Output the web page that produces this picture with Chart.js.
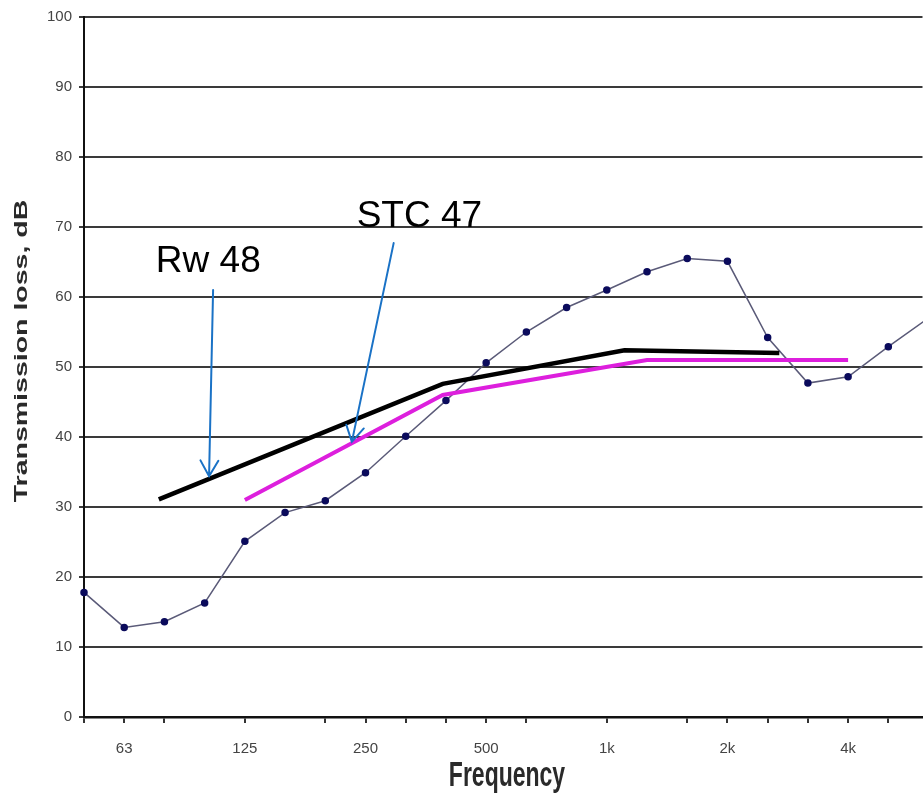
<!DOCTYPE html>
<html>
<head>
<meta charset="utf-8">
<script src="https://cdn.jsdelivr.net/npm/chart.js@4"></script>
<style>
  html, body { margin: 0; padding: 0; background: #fff; overflow: hidden; }
</style>
</head>
<body>
<canvas id="myChart" width="928" height="799"></canvas>
<script>
/* third octave bands + measured transmission loss */
var freqs = ['50', '63', '80', '100', '125', '160', '200', '250', '315', '400', '500',
             '630', '800', '1k', '1.25k', '1.6k', '2k', '2.5k', '3.15k', '4k', '5k', '6.3k'];
var measured = [17.8, 12.8, 13.6, 16.3, 25.1, 29.2, 30.9, 34.9, 40.1, 45.2, 50.6,
                55.0, 58.5, 61.0, 63.6, 65.5, 65.1, 54.2, 47.7, 48.6, 52.9, 57.0];
var shownLabels = ['63', '125', '250', '500', '1k', '2k', '4k'];
var tickMarks = [0, 1, 2, 4, 6, 7, 8, 9, 10, 11, 13, 15, 16, 17, 18, 19, 20];

/* reference curves (band index, dB) */
var rwX = [1.86, 8.92, 13.44, 17.29];
var rwY = [31.1, 47.6, 52.4, 52.0];
var stcX = [4.0, 8.92, 14.0, 19.0];
var stcY = [31.0, 46.0, 51.0, 51.0];

/* annotations */
var noteText = ['Rw 48', 'STC 47'];
var noteX = [3.09, 8.34];
var noteY = [63.6, 70.0];
var arrowFromX = [3.21, 7.70];
var arrowFromY = [61.0, 67.7];
var arrowToX = [3.11, 6.66];
var arrowToY = [34.4, 39.3];

var font = "'Liberation Sans', Arial, sans-serif";

function pts(xs, ys) {
    return xs.map(function (v, i) { return { x: v, y: ys[i] }; });
}

var notes = {
    id: 'notes',
    afterDatasetsDraw: function (chart) {
        var ctx = chart.ctx;
        var x = chart.scales.x, y = chart.scales.y;
        ctx.save();
        // arrows
        ctx.strokeStyle = '#1a72c6';
        ctx.lineWidth = 2;
        ctx.lineCap = 'round';
        for (var i = 0; i < arrowFromX.length; i++) {
            var x1 = x.getPixelForValue(arrowFromX[i]), y1 = y.getPixelForValue(arrowFromY[i]);
            var x2 = x.getPixelForValue(arrowToX[i]), y2 = y.getPixelForValue(arrowToY[i]);
            var a = Math.atan2(y2 - y1, x2 - x1);
            ctx.beginPath();
            ctx.moveTo(x1, y1);
            ctx.lineTo(x2, y2);
            ctx.moveTo(x2 - 18 * Math.cos(a - 0.52), y2 - 18 * Math.sin(a - 0.52));
            ctx.lineTo(x2, y2);
            ctx.lineTo(x2 - 18 * Math.cos(a + 0.52), y2 - 18 * Math.sin(a + 0.52));
            ctx.stroke();
        }
        // labels
        ctx.fillStyle = '#000';
        ctx.font = '37px ' + font;
        ctx.textAlign = 'center';
        ctx.textBaseline = 'alphabetic';
        for (var j = 0; j < noteText.length; j++) {
            ctx.fillText(noteText[j], x.getPixelForValue(noteX[j]), y.getPixelForValue(noteY[j]));
        }
        ctx.restore();
    },
    afterDraw: function (chart) {
        // axis titles, stretched like the original picture
        var ctx = chart.ctx;
        ctx.save();
        ctx.fillStyle = '#2a2a2a';
        ctx.font = 'bold 23px ' + font;
        ctx.textAlign = 'center';
        ctx.textBaseline = 'alphabetic';
        ctx.translate(507, 786);
        ctx.scale(1, 1.5);
        ctx.fillText('Frequency', 0, 0);
        ctx.restore();

        ctx.save();
        ctx.fillStyle = '#2a2a2a';
        ctx.font = 'bold 19px ' + font;
        ctx.textAlign = 'center';
        ctx.textBaseline = 'alphabetic';
        ctx.translate(27, 351);
        ctx.rotate(-Math.PI / 2);
        ctx.scale(1.5, 1);
        ctx.fillText('Transmission loss, dB', 0, 0);
        ctx.restore();
    }
};

var ctx = document.getElementById('myChart');

var myChart = new Chart(ctx, {
    type: 'line',
    data: {
        datasets: [{
            label: 'STC 47',
            data: pts(stcX, stcY),
            borderColor: '#dd1fdd',
            borderWidth: 4,
            pointRadius: 0,
            order: 1
        }, {
            label: 'Rw 48',
            data: pts(rwX, rwY),
            borderColor: '#000000',
            borderWidth: 4.5,
            pointRadius: 0,
            order: 2
        }, {
            label: 'Measured',
            data: pts(measured.map(function (v, i) { return i; }), measured),
            borderColor: '#5a5a78',
            borderWidth: 1.5,
            pointRadius: 3,
            pointBackgroundColor: '#0b0b5c',
            pointBorderColor: '#0b0b5c',
            clip: false,
            order: 3
        }]
    },
    options: {
        responsive: false,
        animation: false,
        layout: { padding: { top: 17, left: 0, right: 0, bottom: 0 } },
        plugins: {
            legend: { display: false },
            tooltip: { enabled: false }
        },
        scales: {
            x: {
                type: 'linear',
                min: 0,
                max: 20.85,
                afterBuildTicks: function (scale) {
                    scale.ticks = freqs.slice(0, 21).map(function (f, i) { return { value: i }; });
                },
                afterFit: function (scale) { scale.height = 82; },
                ticks: {
                    autoSkip: false,
                    maxRotation: 0,
                    padding: 17,
                    color: '#444',
                    font: { family: font, size: 15 },
                    callback: function (value) {
                        var f = freqs[value];
                        return shownLabels.indexOf(f) >= 0 ? f : '';
                    }
                },
                grid: {
                    drawOnChartArea: false,
                    tickLength: 6,
                    lineWidth: 2,
                    color: function (c) {
                        return (c.tick && tickMarks.indexOf(c.tick.value) >= 0) ? '#333' : 'rgba(0,0,0,0)';
                    }
                },
                border: { color: '#111', width: 2.5 }
            },
            y: {
                min: 0,
                max: 100,
                afterFit: function (scale) { scale.width = 84; },
                ticks: {
                    stepSize: 10,
                    padding: 7,
                    color: '#444',
                    font: { family: font, size: 15 }
                },
                grid: {
                    color: '#3a3a3a',
                    lineWidth: 2,
                    tickLength: 5
                },
                border: { color: '#111', width: 2 }
            }
        }
    },
    plugins: [notes]
});
</script>
</body>
</html>
